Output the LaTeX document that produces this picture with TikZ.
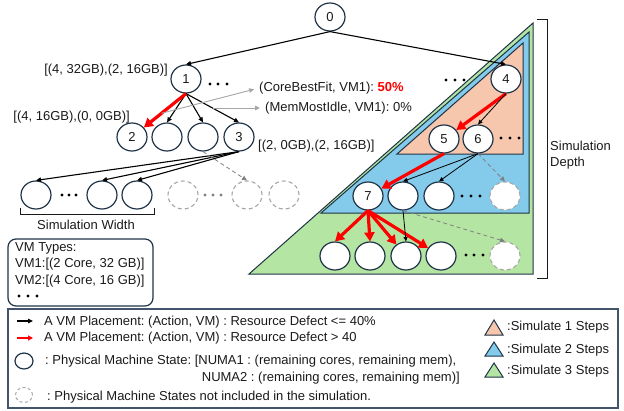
\documentclass[tikz,border=0pt]{standalone}
\usepackage{fontspec}
\setmainfont{Liberation Sans}
\usetikzlibrary{arrows.meta,shapes.geometric}
\definecolor{navy}{HTML}{1F3347}
\definecolor{txt}{HTML}{1A1A1A}
\definecolor{orgfill}{HTML}{F6C6AD}
\definecolor{bluefill}{HTML}{83CAEB}
\definecolor{grnfill}{HTML}{B4E5A2}
\definecolor{lgray}{HTML}{A6A6A6}
\definecolor{dgray}{HTML}{808080}
\definecolor{boxline}{HTML}{44546A}
\definecolor{redc}{HTML}{FF0000}
\begin{document}
\frenchspacing
\begin{tikzpicture}[x=1pt,y=-1pt, font=\fontsize{13}{15}\selectfont\frenchspacing, text=txt,
 pm/.style={ellipse, draw=navy, line width=1.2pt, fill=white, minimum width=30pt, minimum height=28pt, inner sep=0pt},
 pmx/.style={ellipse, draw=lgray, dash pattern=on 4pt off 3pt, line width=1.1pt, fill=white, minimum width=30pt, minimum height=28pt, inner sep=0pt},
 lbl/.style={inner sep=0pt},
 edgeb/.style={draw=black, line width=1.1pt, -{Triangle[length=5pt,width=4.5pt]}},
 edget/.style={draw=black, line width=0.8pt, -{Triangle[length=4.5pt,width=4pt]}},
 edger/.style={draw=redc, line width=3.2pt, -{Triangle[length=9pt,width=10pt]}},
 edgex/.style={draw=dgray, line width=0.8pt, dash pattern=on 4pt off 3pt, -{Triangle[length=5pt,width=4.5pt]}},
 annot/.style={draw=lgray, line width=0.9pt, -{Triangle[length=5pt,width=4.5pt]}, shorten >=5pt},
 tri/.style={draw=navy, line width=1pt, line join=miter},
 bracketline/.style={draw=txt, line width=1pt}
]
\useasboundingbox (0,0) rectangle (624,410);

% triangles
\draw[tri, fill=grnfill] (249,274) -- (533,23) -- (533,274) -- cycle;
\draw[tri, fill=bluefill] (321,213) -- (529,32) -- (529,213) -- cycle;
\draw[tri, fill=orgfill] (397,154) -- (523,43) -- (523,154) -- cycle;

% nodes
\node[pm] (n0) at (330,17) {0};
\node[pm] (n1) at (186,79) {1};
\node[pm] (n2) at (132,137) {2};
\node[pm] (c1b) at (167,137) {};
\node[pm] (c1c) at (203,137) {};
\node[pm] (n3) at (239,137) {3};
\node[pm] (r3a) at (36,195) {};
\node[pm] (r3b) at (102,195) {};
\node[pm] (r3c) at (137,195) {};
\node[pmx] (d3a) at (183,195) {};
\node[pmx] (d3b) at (247,195) {};
\node[pmx] (d3c) at (284,195) {};

\node[pm] (n4) at (506,79) {4};
\node[pm] (n5) at (444,139) {5};
\node[pm] (n6) at (478,139) {6};
\node[pm] (n7) at (368,196) {7};
\node[pm] (r7b) at (403,196) {};
\node[pm] (r7c) at (439,196) {};
\node[pmx] (d7) at (505,196) {};
\node[pm] (r8a) at (335,256) {};
\node[pm] (r8b) at (370,256) {};
\node[pm] (r8c) at (406,256) {};
\node[pm] (r8d) at (441,256) {};
\node[pmx] (d8) at (505,256) {};

% dots
\foreach \x in {210,218,227} \fill (\x,84) circle (1.7);
\foreach \x in {62,69,76} \fill (\x,195) circle (1.7);
\foreach \x in {205,213,221} \fill[dgray] (\x,195) circle (1.7);
\foreach \x in {446,455,464} \fill (\x,80) circle (1.7);
\foreach \x in {501,510,519} \fill (\x,138) circle (1.7);
\foreach \x in {462,471,480} \fill (\x,196) circle (1.7);
\foreach \x in {466,474,483} \fill (\x,255) circle (1.7);

% edges
\draw[edgeb] (n0.south) -- (n1.north);
\draw[edgeb] (n0.south) -- (n4.north);
\draw[edgeb] (n1.south) -- (c1b.north);
\draw[edgeb] (n1.south) -- (c1c.north);
\draw[edgeb] (n1.south) -- coordinate[pos=0.5] (mmi) (n3.north);
\draw[edger] (n1.south) -- coordinate[pos=0.58] (cbf) (n2);
\draw[edgeb] (n3.south) -- (r3a.north);
\draw[edgeb] (n3.south) -- (r3b.north);
\draw[edgeb] (n3.south) -- (r3c.north);
\draw[edgex] (c1c.south) -- (d3b.north);

\draw[edger] (n4.south) -- (n5);
\draw[edget] (n4.south) -- (n6.north);
\draw[edger] (n5.south) -- (n7);
\draw[edget] (n6.south) -- (r7b.north);
\draw[edget] (n6.south) -- (r7c.north);
\draw[edgex] (n6.south) -- (d7.north);
\draw[edger] (n7.south) -- (r8a.north);
\draw[edger] (n7.south) -- (r8b.north);
\draw[edger] (n7.south) -- (r8c);
\draw[edger] (n7.south) -- (r8d);
\draw[edget] (r7b.south) -- (r8c.north);
\draw[edgex] (r7b.south) -- (d8.north);

% labels
\node[lbl, anchor=east] (l1) at (168,70) {[(4, 32GB),(2, 16GB)]};
\node[lbl, anchor=east] (l2) at (130,117) {[(4, 16GB),(0, 0GB)]};
\node[lbl, anchor=west] (l3) at (258,146) {[(2, 0GB),(2, 16GB)]};
\node[lbl, anchor=west] (lcbf) at (259,88) {(CoreBestFit, VM1): {\color{redc}\bfseries 50\%}};
\node[lbl, anchor=west] (lmmi) at (265,108) {(MemMostIdle, VM1): 0\%};
\draw[annot] (cbf) -- (lcbf.west);
\draw[annot] (mmi) -- (lmmi.west);

% brackets
\coordinate (bw1) at (20,208); \coordinate (bw2) at (20,214);
\coordinate (bw3) at (154,214); \coordinate (bw4) at (154,208);
\draw[bracketline] (bw1) -- (bw2) -- (bw3) -- (bw4);
\node[lbl] (simw) at (86,225) {Simulation Width};
\coordinate (bd1) at (537,19); \coordinate (bd2) at (547,19);
\coordinate (bd3) at (547,278); \coordinate (bd4) at (537,278);
\draw[bracketline] (bd1) -- (bd2) -- (bd3) -- (bd4);
\node[lbl, anchor=west, align=left, font=\fontsize{13}{16}\selectfont] (simd) at (550,155) {Simulation\\Depth};

% VM types box
\draw[navy, line width=1.2pt, rounded corners=8pt] (8,239) rectangle (153,306);
\node[lbl, anchor=north west, align=left, font=\fontsize{13}{16.8}\selectfont\frenchspacing] (vmt) at (15,242) {VM Types:\\VM1:[(2 Core, 32 GB)]\\VM2:[(4 Core, 16 GB)]};
\foreach \x in {19,28,37} \fill (\x,296) circle (1.7);

% legend
\draw[boxline, line width=1.3pt] (8,309) rectangle (618,408);
\coordinate (la1) at (17,321); \coordinate (la2) at (33,321);
\draw[edgeb] (la1) -- (la2);
\coordinate (lr1) at (17,338); \coordinate (lr2) at (33,338);
\draw[draw=redc, line width=1.5pt, -{Triangle[length=5pt,width=5pt]}] (lr1) -- (lr2);
\node[lbl, anchor=west] (t1) at (44,322) {A VM Placement: (Action, VM) : Resource Defect <= 40\%};
\node[lbl, anchor=west] (t2) at (44,338) {A VM Placement: (Action, VM) : Resource Defect > 40};
\node[ellipse, draw=navy, line width=1.2pt, minimum width=18pt, minimum height=16pt, inner sep=0pt] (lc) at (24,361) {};
\node[lbl, anchor=west] (t3) at (45,361) {: Physical Machine State: [NUMA1 : (remaining cores, remaining mem),};
\node[lbl, anchor=east] (t4) at (460,378) {NUMA2 : (remaining cores, remaining mem)]};
\node[ellipse, draw=lgray, dash pattern=on 3pt off 2.5pt, line width=1pt, minimum width=17pt, minimum height=15pt, inner sep=0pt] (ldc) at (24,395) {};
\node[lbl, anchor=west] (t5) at (47,397) {: Physical Machine States not included in the simulation.};

\draw[tri, fill=orgfill] (485,335) -- (494,320) -- (503,335) -- cycle;
\draw[tri, fill=bluefill] (485,356) -- (494,342) -- (503,356) -- cycle;
\draw[tri, fill=grnfill] (485,377) -- (494,363) -- (503,377) -- cycle;
\node[lbl, anchor=west] (s1) at (507,327) {:Simulate 1 Steps};
\node[lbl, anchor=west] (s2) at (507,350) {:Simulate 2 Steps};
\node[lbl, anchor=west] (s3) at (507,371) {:Simulate 3 Steps};
\end{tikzpicture}
\end{document}
